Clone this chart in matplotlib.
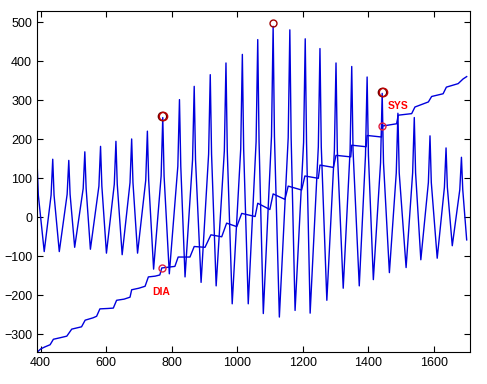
## Oscillometric pulse signal with cuff pressure ramp, SYS / DIA markers
import numpy as np
import matplotlib
matplotlib.use('Agg')
import matplotlib.pyplot as plt

# Pulse peaks (sample index, amplitude)
peak_x = [389, 437, 486, 535, 583, 630, 678, 726, 773, 824, 869, 918, 966, 1016,
          1063, 1110, 1161, 1208, 1253, 1302, 1350, 1397, 1443, 1491, 1541, 1589, 1638, 1685]
peak_y = [146, 149, 146, 168, 182, 195, 201, 221, 256, 302, 336, 366, 396, 418,
          456, 490, 481, 458, 433, 396, 387, 360, 318, 267, 256, 209, 178, 154]
# level where the narrow spike on top of each pulse starts
shoulder_y = [57, 57, 59, 74, 80, 85, 89, 95, 106, 131, 148, 162, 170, 175,
              194, 208, 204, 192, 181, 171, 172, 159, 140, 114, 114, 89, 77, 71]
# Troughs after each peak (last one is the end of the record)
trough_x = [411, 457, 504, 552, 601, 649, 696, 745, 793, 841, 890, 936, 985, 1034,
            1080, 1129, 1177, 1223, 1274, 1324, 1373, 1416, 1465, 1516, 1561, 1611, 1657, 1701]
trough_y = [-88, -88, -77, -82, -92, -96, -92, -133, -145, -153, -167, -176, -222, -222,
            -247, -256, -239, -246, -213, -182, -176, -160, -142, -129, -109, -105, -73, -58]

# Cuff pressure ramp (staircase)
ramp_x = [391, 400, 412, 429, 439, 460, 480, 495, 525, 536, 560, 571, 581, 605, 622, 632,
          655, 673, 678, 700, 719, 729, 750, 764, 770, 790, 810, 820, 856, 869, 902, 920,
          953, 968, 999, 1014, 1055, 1063, 1100, 1110, 1146, 1156, 1197, 1207, 1248, 1253,
          1294, 1302, 1347, 1350, 1394, 1397, 1441, 1443, 1487, 1492, 1533, 1543, 1584,
          1594, 1629, 1639, 1675, 1690, 1701]
ramp_y = [-345, -338, -333, -327, -313, -309, -305, -287, -281, -264, -258, -254, -235, -234,
          -233, -213, -210, -205, -186, -182, -177, -153, -151, -148, -130, -128, -126, -102,
          -102, -75, -77, -45, -50, -15, -24, 10, 2, 36, 20, 60, 46, 80, 70, 106, 100, 134,
          128, 159, 155, 185, 181, 210, 206, 234, 240, 262, 266, 283, 296, 310, 317, 334,
          343, 355, 361]

# detected points
sys_x, sys_top, sys_ramp = 1443, 321, 234
dia_x, dia_top, dia_ramp = 771, 260, -130
max_x, max_y = 1110, 499

# pulse polyline: shoulder -> peak -> shoulder -> trough
sig_x, sig_y = [], []
for i in range(len(peak_x)):
    if i > 0:
        sig_x.append(peak_x[i] - 5); sig_y.append(shoulder_y[i])
    sig_x += [peak_x[i], peak_x[i] + 4, trough_x[i]]
    sig_y += [peak_y[i], shoulder_y[i], trough_y[i]]

plt.rcParams['font.family'] = ['Liberation Sans', 'DejaVu Sans']
fig = plt.figure(figsize=(4.87, 3.84), dpi=100)
ax = fig.add_axes([0.076, 0.083, 0.889, 0.889])

ax.plot(sig_x, sig_y, color='#0000dd', lw=1)
ax.plot(ramp_x, ramp_y, color='#0000dd', lw=1)

# markers
ax.plot([dia_x, sys_x], [dia_top, sys_top], 'o', mfc='none', mec='#600000', ms=6, mew=1)
ax.plot([dia_x + 3, sys_x + 3], [dia_top, sys_top], 'o', mfc='none', mec='#c00000', ms=6, mew=1)
ax.plot([max_x], [max_y], 'o', mfc='none', mec='#a00000', ms=5, mew=1)
ax.plot([dia_x, sys_x], [dia_ramp, sys_ramp], 'o', mfc='none', mec='#e02040', ms=5, mew=1)

ax.text(1460, 285, 'SYS', color='red', fontsize=7.5, fontweight='bold', va='center', ha='left')
ax.text(742, -191, 'DIA', color='red', fontsize=7.5, fontweight='bold', va='center', ha='left')

ax.set_xlim(389, 1711)
ax.set_ylim(-346, 530)
ax.set_xticks(range(400, 1601, 200))
ax.set_yticks(range(-300, 501, 100))
ax.tick_params(direction='in', top=True, right=True, length=4, labelsize=9)
for s in ax.spines.values():
    s.set_linewidth(0.8)

fig.savefig('out.png', dpi=100)
